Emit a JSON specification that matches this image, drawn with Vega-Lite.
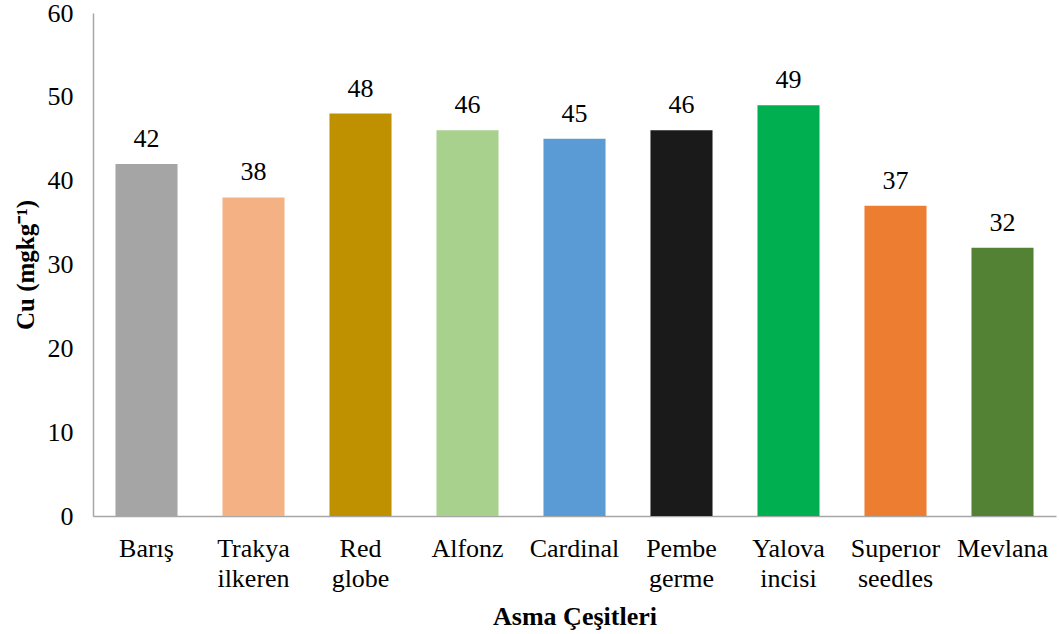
{
  "$schema": "https://vega.github.io/schema/vega-lite/v6.json",
  "width": 963,
  "height": 503,
  "autosize": {"type": "none"},
  "padding": {"left": 93, "top": 13, "right": 3, "bottom": 118},
  "background": "white",
  "config": {
    "view": {"stroke": null},
    "font": "Times New Roman, Liberation Serif, serif"
  },
  "data": {
    "values": [
      {"cesit": "Barış", "cu": 42, "color": "#A5A5A5"},
      {"cesit": "Trakya ilkeren", "cu": 38, "color": "#F4B183"},
      {"cesit": "Red globe", "cu": 48, "color": "#BF9000"},
      {"cesit": "Alfonz", "cu": 46, "color": "#A9D18E"},
      {"cesit": "Cardinal", "cu": 45, "color": "#5B9BD5"},
      {"cesit": "Pembe germe", "cu": 46, "color": "#1A1A1A"},
      {"cesit": "Yalova incisi", "cu": 49, "color": "#00B050"},
      {"cesit": "Superıor seedles", "cu": 37, "color": "#ED7D31"},
      {"cesit": "Mevlana", "cu": 32, "color": "#548235"}
    ]
  },
  "encoding": {
    "x": {
      "field": "cesit",
      "type": "nominal",
      "sort": null,
      "scale": {"paddingInner": 0.42, "paddingOuter": 0.21},
      "axis": {
        "title": "Asma Çeşitleri",
        "titleFont": "Times New Roman, Liberation Serif, serif",
        "titleFontSize": 26,
        "titleFontWeight": "bold",
        "titleColor": "#000000",
        "titlePadding": 12,
        "labelAngle": 0,
        "labelFont": "Times New Roman, Liberation Serif, serif",
        "labelFontSize": 26,
        "labelColor": "#000000",
        "labelPadding": 19,
        "labelLineHeight": 30,
        "labelExpr": "split(datum.label, ' ')",
        "ticks": false,
        "domainColor": "#A6A6A6",
        "domainWidth": 1.5,
        "grid": false
      }
    },
    "y": {
      "field": "cu",
      "type": "quantitative",
      "scale": {"domain": [0, 60]},
      "axis": {
        "title": "Cu (mgkg⁻¹)",
        "titleFont": "Times New Roman, Liberation Serif, serif",
        "titleFontSize": 25,
        "titleFontWeight": "bold",
        "titleColor": "#000000",
        "titlePadding": 9,
        "values": [0, 10, 20, 30, 40, 50, 60],
        "labelFont": "Times New Roman, Liberation Serif, serif",
        "labelFontSize": 26,
        "labelColor": "#000000",
        "labelPadding": 20,
        "ticks": false,
        "domainColor": "#A6A6A6",
        "domainWidth": 1.5,
        "grid": false
      }
    }
  },
  "layer": [
    {
      "mark": {"type": "bar"},
      "encoding": {
        "color": {"field": "color", "type": "nominal", "scale": null}
      }
    },
    {
      "mark": {"type": "text", "baseline": "alphabetic", "dy": -17, "font": "Times New Roman, Liberation Serif, serif", "fontSize": 26, "color": "#000000"},
      "encoding": {
        "text": {"field": "cu", "type": "quantitative"}
      }
    }
  ]
}
